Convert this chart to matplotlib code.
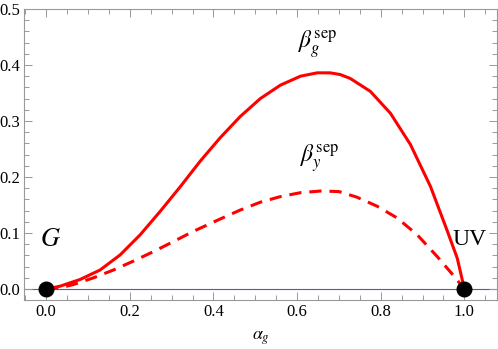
import numpy as np
import matplotlib.pyplot as plt
from matplotlib.ticker import MultipleLocator

plt.rcParams['font.family'] = ['Liberation Serif', 'DejaVu Serif']
plt.rcParams['mathtext.fontset'] = 'stix'

# values
alpha_g_pts = [0.0, 0.033, 0.081, 0.129, 0.177, 0.225, 0.273, 0.321, 0.368, 0.416,
               0.464, 0.512, 0.560, 0.608, 0.648, 0.679, 0.703, 0.727, 0.775, 0.823,
               0.871, 0.919, 0.959, 0.983, 1.0]
beta_g = [0.0, 0.005, 0.017, 0.034, 0.061, 0.097, 0.139, 0.183, 0.228, 0.270,
          0.308, 0.340, 0.364, 0.380, 0.386, 0.386, 0.383, 0.376, 0.353, 0.314,
          0.258, 0.183, 0.104, 0.055, 0.0]
alpha_y_pts = [0.0, 0.033, 0.065, 0.113, 0.161, 0.209, 0.257, 0.305, 0.352, 0.416,
               0.464, 0.512, 0.560, 0.608, 0.656, 0.700, 0.743, 0.791, 0.839, 0.887,
               0.935, 0.974, 1.0]
beta_y = [0.0, 0.002, 0.008, 0.020, 0.034, 0.050, 0.067, 0.085, 0.103, 0.125,
          0.141, 0.155, 0.165, 0.172, 0.175, 0.174, 0.164, 0.148, 0.127, 0.097,
          0.058, 0.024, 0.0]
fixed_x = [0.0, 1.0]
fixed_y = [0.0, 0.0]

fig = plt.figure(figsize=(4.98, 3.49), dpi=100)
ax = fig.add_axes([24/498, 1 - 300/349, 473/498, 291/349])

ax.axhline(0, color='#5b5b9b', lw=0.8, zorder=1)
ax.plot(alpha_g_pts, beta_g, color='red', lw=2.2, solid_joinstyle='round', zorder=2)
ax.plot(alpha_y_pts, beta_y, color='red', lw=2.2, dashes=(4, 2.6), zorder=2)
ax.plot(fixed_x, fixed_y, 'o', color='black', ms=10.5, clip_on=False, zorder=3)

ax.text(0.65, 0.436, r'$\beta_g^{\rm sep}$', fontsize=17, ha='center', va='center')
ax.text(0.655, 0.232, r'$\beta_y^{\rm sep}$', fontsize=17, ha='center', va='center')
ax.text(0.01, 0.088, r'$G$', fontsize=19, ha='center', va='center')
ax.text(1.012, 0.088, 'UV', fontsize=17, ha='center', va='center')

ax.set_xlim(-0.053, 1.078)
ax.set_ylim(-0.0196, 0.5)
ax.xaxis.set_major_locator(MultipleLocator(0.2))
ax.xaxis.set_minor_locator(MultipleLocator(0.05))
ax.yaxis.set_major_locator(MultipleLocator(0.1))
ax.yaxis.set_minor_locator(MultipleLocator(0.02))
ax.xaxis.set_major_formatter(lambda v, p: f'{v:.1f}')
ax.yaxis.set_major_formatter(lambda v, p: f'{v:.1f}')

for s in ax.spines.values():
    s.set_color('#999999')
    s.set_linewidth(0.8)
ax.tick_params(which='both', direction='in', top=True, right=True, color='#999999',
               labelsize=12, width=0.7)
ax.tick_params(which='major', length=6, pad=3)
ax.tick_params(which='minor', length=3.5)
ax.set_xlabel(r'$\alpha_g$', fontsize=13, labelpad=7)

plt.savefig('out.png', dpi=100, facecolor='white')
